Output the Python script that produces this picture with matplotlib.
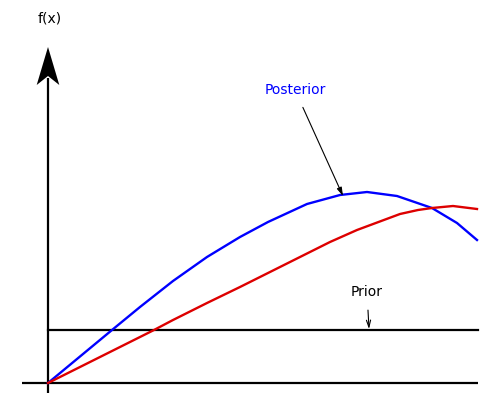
import matplotlib
matplotlib.use("Agg")
import matplotlib.pyplot as plt
from matplotlib.patches import Polygon

# values
blue_x = [0, 64, 92, 125, 159, 192, 220, 259, 292, 319, 349, 384, 409, 429]
blue_y = [0, 53, 76, 102, 126, 146, 161, 179, 188, 191, 187, 175, 160, 143]

red_x = [0, 106, 125, 159, 192, 242, 282, 309, 352, 370, 384, 405, 429]
red_y = [0, 53, 63, 80, 96, 121, 141, 153, 169, 173, 175, 177, 174]

prior_x = [0, 430]
prior_y = [53, 53]

fig = plt.figure(figsize=(4.88, 3.93), dpi=100)
ax = fig.add_axes([0, 0, 1, 1])
ax.set_xlim(-48, 440)
ax.set_ylim(-10, 383)
ax.axis("off")

# axes lines
ax.plot([-26, 430], [0, 0], color="black", lw=1.6, solid_capstyle="butt")
ax.plot([0, 0], [-10, 305], color="black", lw=1.6, solid_capstyle="butt")
# arrow head on the y axis
ax.add_patch(Polygon([[0, 336], [-11.3, 298], [0, 307], [11.3, 298]],
                     closed=True, color="black", lw=0))
ax.text(2, 365, "f(x)", fontsize=10, ha="center", va="center")

ax.plot(prior_x, prior_y, color="black", lw=1.6)
ax.plot(blue_x, blue_y, color="blue", lw=1.7, solid_joinstyle="round")
ax.plot(red_x, red_y, color="#dd0000", lw=1.7, solid_joinstyle="round")

ax.annotate("Posterior", xy=(295, 187), xytext=(247, 293), color="blue",
            fontsize=10, ha="center", va="center",
            arrowprops=dict(arrowstyle="-|>,head_length=0.5,head_width=0.15",
                            color="black", lw=0.8, shrinkA=6, shrinkB=0))
ax.annotate("Prior", xy=(321, 54), xytext=(319, 91), color="black",
            fontsize=10, ha="center", va="center",
            arrowprops=dict(arrowstyle="->,head_length=0.5,head_width=0.15",
                            color="black", lw=0.8, shrinkA=6, shrinkB=0))

fig.savefig("out.png", dpi=100)
